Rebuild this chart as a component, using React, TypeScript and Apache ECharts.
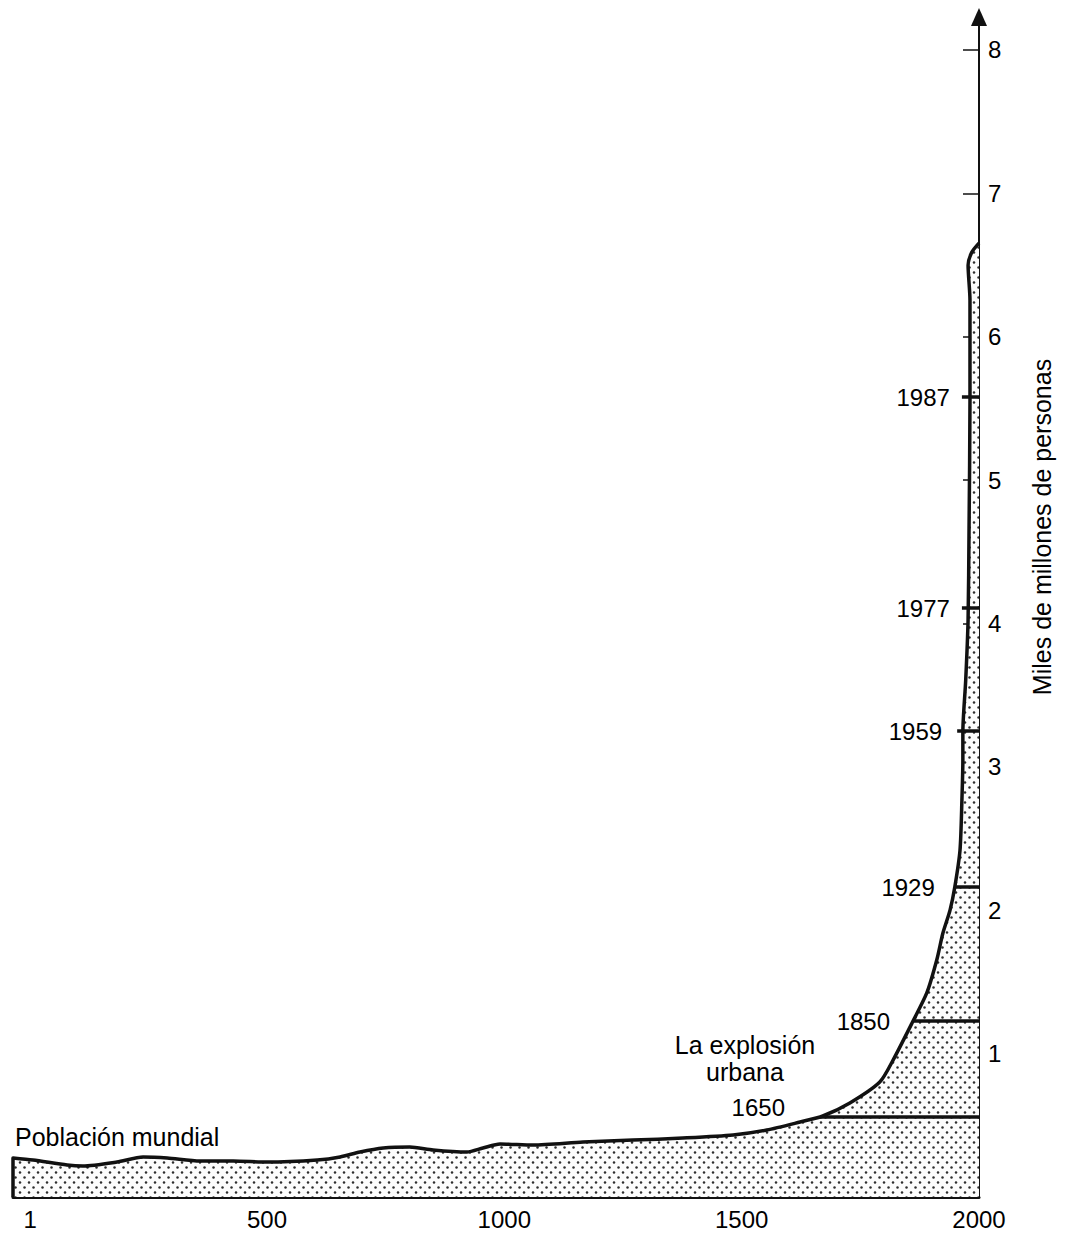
import React, { useEffect, useRef } from "react";
import * as echarts from "echarts";

// Curve: year (x) and population in thousands of millions (y)
const YEARS = [
  -35, -35, 7, 79, 112, 184, 239, 290, 359, 429, 500, 606, 654, 696, 745, 801, 850, 921, 955, 991,
  1061, 1166, 1271, 1376, 1482, 1553, 1623, 1671, 1728, 1791, 1819, 1861, 1890, 1911, 1924, 1939,
  1949, 1960, 1964, 1966, 1966, 1972, 1977, 1979, 1981, 1981, 1977, 1985, 2000,
];
const POPULATION = [
  0, 0.272, 0.258, 0.223, 0.216, 0.244, 0.279, 0.272, 0.251, 0.251, 0.244, 0.258, 0.279, 0.314, 0.342,
  0.349, 0.328, 0.314, 0.342, 0.37, 0.363, 0.384, 0.397, 0.411, 0.432, 0.467, 0.523, 0.565, 0.656,
  0.802, 0.955, 1.227, 1.423, 1.653, 1.841, 2.001, 2.162, 2.42, 2.768, 3.047, 3.243, 3.605, 4.024,
  4.651, 5.558, 6.255, 6.499, 6.59, 6.653,
];

const X_TICKS = [1, 500, 1000, 1500, 2000];
const Y_TICKS = [1, 2, 3, 4, 5, 6, 7, 8];

// Milestones: label, population level, year where the mark starts
const MILESTONE_LABELS = ["1650", "1850", "1929", "1959", "1977", "1987"];
const MILESTONE_POP = [0.558, 1.227, 2.162, 3.25, 4.107, 5.579];
const MILESTONE_START = [1665, 1861, 1949, 1954, 1964, 1964];

const FONT = '"Liberation Sans", Arial, Helvetica, sans-serif';

function makePattern(): HTMLCanvasElement {
  const c = document.createElement("canvas");
  c.width = 9;
  c.height = 10;
  const ctx = c.getContext("2d")!;
  ctx.fillStyle = "#fcfcfc";
  ctx.fillRect(0, 0, 9, 10);
  ctx.fillStyle = "#2e2e2e";
  ctx.beginPath();
  ctx.arc(2, 2.5, 1.25, 0, Math.PI * 2);
  ctx.fill();
  ctx.beginPath();
  ctx.arc(6.5, 7.5, 1.25, 0, Math.PI * 2);
  ctx.fill();
  return c;
}

export default function App() {
  const ref = useRef<HTMLDivElement>(null);

  useEffect(() => {
    if (!ref.current) return;
    const chart = echarts.init(ref.current, null, { renderer: "svg" });

    const distances = [35, 23, 20, 15, 12, 12];
    const vAligns = ["bottom", "middle", "middle", "middle", "middle", "middle"];

    const markData = MILESTONE_LABELS.map((name, i) => [
      {
        name,
        coord: [MILESTONE_START[i], MILESTONE_POP[i]],
        label: {
          show: true,
          position: "start",
          distance: distances[i],
          formatter: name,
          fontSize: 24,
          fontFamily: FONT,
          color: "#000",
          verticalAlign: vAligns[i],
          lineHeight: vAligns[i] === "bottom" ? 18 : 24,
        },
      },
      { coord: [2000, MILESTONE_POP[i]] },
    ]);

    const option: any = {
      animation: false,
      backgroundColor: "#ffffff",
      grid: { left: 13, right: 88, top: 17, bottom: 36, containLabel: false },
      xAxis: {
        type: "value",
        min: -35,
        max: 2000,
        splitLine: { show: false },
        axisLine: { show: true, onZero: false, lineStyle: { color: "#111", width: 3 } },
        axisTick: {
          show: true,
          inside: true,
          length: 8,
          customValues: X_TICKS.slice(0, 4),
          lineStyle: { color: "#444", width: 1 },
        },
        axisLabel: {
          customValues: X_TICKS,
          margin: 10,
          fontSize: 24,
          fontFamily: FONT,
          color: "#000",
          formatter: (v: number) => String(v),
        },
      },
      yAxis: {
        type: "value",
        position: "right",
        min: 0,
        max: 8.23,
        splitLine: { show: false },
        axisLine: {
          show: true,
          onZero: false,
          symbol: ["none", "triangle"],
          symbolSize: [16, 18],
          lineStyle: { color: "#111", width: 2 },
        },
        axisTick: {
          show: true,
          inside: true,
          length: 16,
          customValues: Y_TICKS,
          lineStyle: { color: "#111", width: 1.5 },
        },
        axisLabel: {
          customValues: Y_TICKS,
          margin: 9,
          fontSize: 24,
          fontFamily: FONT,
          color: "#000",
          formatter: (v: number) => String(v),
        },
        name: "Miles de millones de personas",
        nameLocation: "middle",
        nameRotate: 90,
        nameGap: 50,
        nameTextStyle: { fontSize: 25, fontFamily: FONT, color: "#000", padding: [0, 0, 0, 160] },
      },
      graphic: [
        {
          type: "text",
          x: 15,
          y: 1137,
          style: {
            text: "Población mundial",
            fill: "#000",
            fontSize: 25,
            fontFamily: FONT,
            align: "left",
            verticalAlign: "middle",
            textAlign: "left",
            textVerticalAlign: "middle",
          },
        },
        {
          type: "text",
          x: 745,
          y: 1058,
          style: {
            text: "La explosión\nurbana",
            fill: "#000",
            fontSize: 25,
            lineHeight: 27,
            fontFamily: FONT,
            align: "center",
            verticalAlign: "middle",
            textAlign: "center",
            textVerticalAlign: "middle",
          },
        },
      ],
      series: [
        {
          type: "line",
          data: YEARS.map((y, i) => [y, POPULATION[i]]),
          symbol: "none",
          smooth: 0.25,
          lineStyle: { color: "#111", width: 3.5, join: "round" },
          areaStyle: { color: { image: makePattern(), repeat: "repeat" }, opacity: 1 },
          z: 2,
          markLine: {
            silent: true,
            symbol: ["none", "none"],
            animation: false,
            lineStyle: { color: "#111", width: 3.5, type: "solid" },
            data: markData,
          },
        },
      ],
    };

    chart.setOption(option);
    return () => chart.dispose();
  }, []);

  return (
    <div
      ref={ref}
      style={{ position: "fixed", left: 0, top: 0, width: 1067, height: 1233, background: "#fff" }}
    />
  );
}
